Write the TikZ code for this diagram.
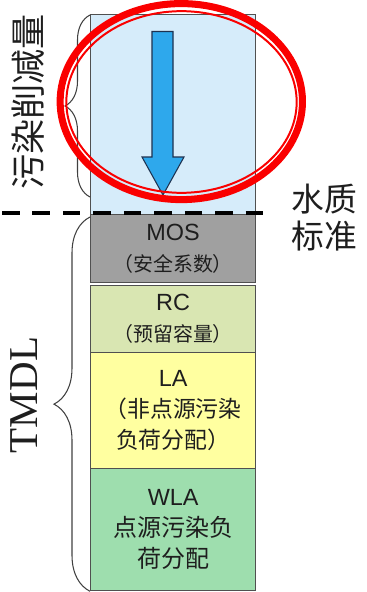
\documentclass[tikz,border=0pt]{standalone}
\usepackage{fontspec}
\setmainfont{Liberation Sans}
\newfontfamily\cjk{Noto Sans CJK SC}
\newfontfamily\timesfont{Liberation Serif}
\usetikzlibrary{calc,shapes,decorations.pathreplacing,positioning}
\definecolor{reductionblue}{RGB}{214,236,250}
\definecolor{arrowblue}{RGB}{46,168,236}
\definecolor{arrowedge}{RGB}{30,50,80}
\definecolor{mosgray}{RGB}{160,160,160}
\definecolor{rcgreen}{RGB}{217,230,178}
\definecolor{layellow}{RGB}{255,255,160}
\definecolor{wlagreen}{RGB}{158,222,174}
\definecolor{boxedge}{RGB}{80,80,80}
\definecolor{textgray}{RGB}{30,30,30}
\definecolor{ringred}{RGB}{250,0,0}
\newcommand{\zh}[2][17]{{\cjk\fontsize{#1}{26.5}\selectfont #2}}
\tikzset{%
    layer/.style={%
        rectangle, draw=boxedge, line width=1.1pt, anchor=north west, minimum width=4.95cm, inner sep=0pt, align=center, text=textgray, font=\fontsize{20}{26.5}\selectfont
    },
    sidebrace/.style={%
        draw=black!75, line width=0.9pt, decorate, decoration={brace, amplitude=#1}
    },
    ring/.style={%
        ellipse, draw=ringred, inner sep=0pt
    },
    bigtxt/.style={%
        text=textgray, align=center, inner sep=0pt
    },
    flow/.style={%
        fill=arrowblue, draw=arrowedge, line width=0.9pt, line join=miter
    },
}
\begin{document}
\begin{tikzpicture}[x=0.03cm, y=-0.03cm]
      \useasboundingbox (0,0) rectangle (366,592);

      % stacked loads
      \node[layer, fill=reductionblue, minimum height=6cm] (reduction) at (90,14) {};
      \node[layer, fill=mosgray, minimum height=2.04cm] (mos) at (90,214) {MOS\\\zh{（安全系数）}};
      \node[layer, fill=rcgreen, minimum height=2.01cm] (rc) at (90,285) {RC\\\zh{（预留容量）}};
      \node[layer, fill=layellow, minimum height=3.48cm] (la) at (90,352) {LA\\\zh[19.5]{（非点源污染}\\\zh[19.5]{负荷分配）}};
      \node[layer, fill=wlagreen, minimum height=3.66cm] (wla) at (90,468) {WLA\\\zh[20.5]{点源污染负}\\\zh[20.5]{荷分配}};

      % reduction arrow
      \draw[flow] (152,31.5) -- (173,31.5) -- (173,157) -- (184,157) -- (163,195) -- (142,157) -- (152,157) -- cycle;

      % water quality standard
      \coordinate (stdL) at (2,213);
      \coordinate (stdR) at (272,213);
      \draw[line width=3.6pt, dash pattern=on 15pt off 11pt] (stdL) -- (stdR);
      \node[bigtxt, font=\cjk\fontsize{28}{31.5}\selectfont] (standard) at (324,218) {水质\\标准};

      % braces
      \draw[sidebrace=0.75cm] (90,197) -- (90,15);
      \draw[sidebrace=1.08cm] (wla.south west) -- ($(mos.north west)+(0,3)$);
      \node[bigtxt, rotate=90, font=\cjk\fontsize{30}{32}\selectfont] (reductionlabel) at (28,102) {污染削减量};
      \node[bigtxt, rotate=90, font=\timesfont\fontsize{35}{40}\selectfont] (tmdl) at (24,395) {TMDL};

      % highlight
      \node[ring, line width=6pt, minimum width=7.27cm, minimum height=5.88cm] (ringout) at (181.3,101.6) {};
      \node[ring, line width=1.7pt, minimum width=6.91cm, minimum height=5.45cm] (ringin) at (181.5,102) {};
\end{tikzpicture}
\end{document}
